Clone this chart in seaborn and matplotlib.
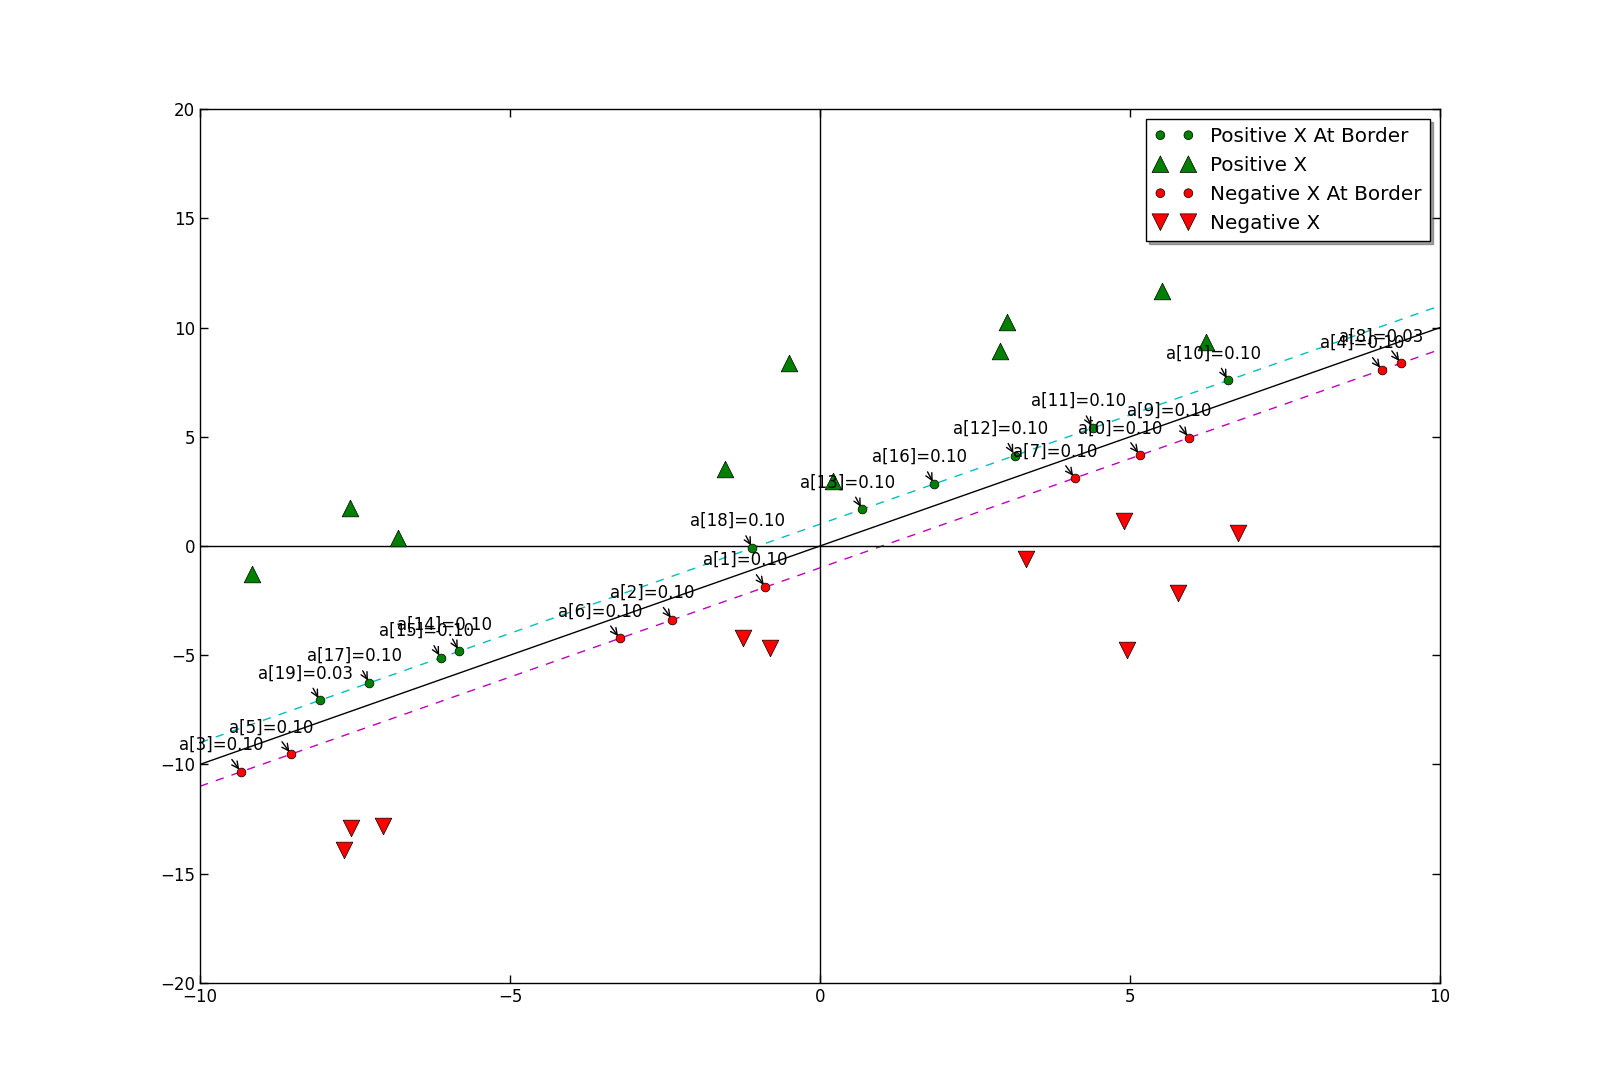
import matplotlib
matplotlib.use("Agg")
import matplotlib.pyplot as plt
import seaborn as sns

# ---- data ----
# support vectors of the positive class (green dots) and their alphas
pos_sv_idx = [19, 17, 15, 14, 18, 13, 16, 12, 11, 10]
pos_sv_alpha = [0.03, 0.10, 0.10, 0.10, 0.10, 0.10, 0.10, 0.10, 0.10, 0.10]
pos_sv_x = [-8.07, -7.27, -6.12, -5.82, -1.09, 0.68, 1.84, 3.14, 4.40, 6.58]
pos_sv_y = [-7.07, -6.27, -5.12, -4.82, -0.09, 1.68, 2.84, 4.14, 5.40, 7.58]

# support vectors of the negative class (red dots)
neg_sv_idx = [3, 5, 6, 2, 1, 7, 0, 9, 4, 8]
neg_sv_alpha = [0.10, 0.10, 0.10, 0.10, 0.10, 0.10, 0.10, 0.10, 0.10, 0.03]
neg_sv_x = [-9.34, -8.53, -3.23, -2.38, -0.88, 4.11, 5.16, 5.95, 9.06, 9.37]
neg_sv_y = [-10.34, -9.53, -4.23, -3.38, -1.88, 3.11, 4.16, 4.95, 8.06, 8.37]

# the other samples
pos_x = [-9.16, -7.58, -6.81, -1.54, -0.50, 0.21, 2.91, 3.02, 5.52, 6.23]
pos_y = [-1.29, 1.75, 0.35, 3.53, 8.40, 2.97, 8.91, 10.27, 11.67, 9.33]
neg_x = [-7.56, -7.05, -7.68, -1.24, -0.80, 3.33, 4.91, 4.95, 5.77, 6.74]
neg_y = [-12.89, -12.84, -13.92, -4.23, -4.65, -0.58, 1.15, -4.75, -2.13, 0.58]

# separating line and the two margins
line_x = [-10, 10]
line_y = [-10, 10]
upper_y = [-9, 11]
lower_y = [-11, 9]

# ---- style ----
sns.set_style("ticks")
plt.rcParams["font.family"] = ["DejaVu Sans"]
plt.rcParams["font.size"] = 12
plt.rcParams["text.color"] = "black"
plt.rcParams["axes.labelcolor"] = "black"
plt.rcParams["xtick.color"] = "black"
plt.rcParams["ytick.color"] = "black"

fig = plt.figure(figsize=(16, 10.92), dpi=100)
ax = fig.add_axes([0.125, 0.1, 0.775, 0.8])

# lines
sns.lineplot(x=line_x, y=line_y, color="k", lw=1, ax=ax)
sns.lineplot(x=line_x, y=upper_y, color="c", lw=1, ax=ax).lines[-1].set_dashes((6, 6))
sns.lineplot(x=line_x, y=lower_y, color="m", lw=1, ax=ax).lines[-1].set_dashes((6, 6))
ax.axhline(0, color="k", lw=1)
ax.axvline(0, color="k", lw=1)

# points
sns.scatterplot(x=pos_sv_x, y=pos_sv_y, color="g", marker="o", s=40,
                edgecolor="k", linewidth=0.5, zorder=3, label="Positive X At Border", ax=ax)
sns.scatterplot(x=pos_x, y=pos_y, color="g", marker="^", s=144,
                edgecolor="k", linewidth=0.5, zorder=3, label="Positive X", ax=ax)
sns.scatterplot(x=neg_sv_x, y=neg_sv_y, color="r", marker="o", s=40,
                edgecolor="k", linewidth=0.5, zorder=3, label="Negative X At Border", ax=ax)
sns.scatterplot(x=neg_x, y=neg_y, color="r", marker="v", s=144,
                edgecolor="k", linewidth=0.5, zorder=3, label="Negative X", ax=ax)

# alpha labels on the support vectors
for idx, a, x, y in zip(pos_sv_idx + neg_sv_idx, pos_sv_alpha + neg_sv_alpha,
                        pos_sv_x + neg_sv_x, pos_sv_y + neg_sv_y):
    ax.annotate("a[%d]=%.2f" % (idx, a), xy=(x, y), xytext=(x - 1, y + 1),
                fontsize=12, color="k", arrowprops=dict(arrowstyle="->", color="k"))

ax.set_xlim(-10, 10)
ax.set_ylim(-20, 20)
ax.set_xticks([-10, -5, 0, 5, 10])
ax.set_yticks([-20, -15, -10, -5, 0, 5, 10, 15, 20])
ax.tick_params(direction="in", top=True, right=True, length=6, width=1,
               labelsize=12, colors="k")
for sp in ax.spines.values():
    sp.set_visible(True)
    sp.set_color("k")
    sp.set_linewidth(1)

leg = ax.legend(loc="upper right", scatterpoints=2, scatteryoffsets=[0.5],
                shadow=True, fancybox=False, fontsize=14.4, framealpha=1,
                edgecolor="k")
leg.get_frame().set_linewidth(1)
for t in leg.get_texts():
    t.set_color("k")

fig.savefig("out.png", dpi=100, facecolor="white")
